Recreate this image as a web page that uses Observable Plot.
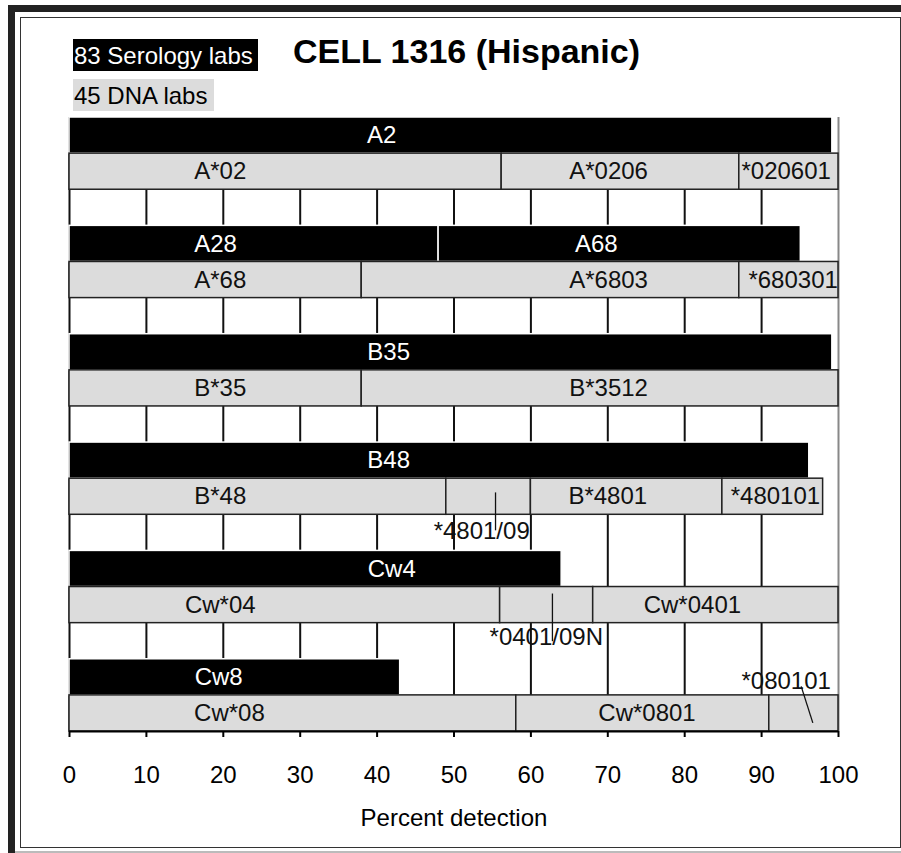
<!DOCTYPE html>
<html>
<head>
<meta charset="utf-8">
<script src="https://cdn.jsdelivr.net/npm/d3@7"></script>
<script src="https://cdn.jsdelivr.net/npm/@observablehq/plot@0.6"></script>
<style>
  html, body { margin: 0; padding: 0; background: #fff; }
  #page { position: relative; width: 901px; height: 853px; background: #fff; overflow: hidden;
          font-family: "Liberation Sans", Arial, sans-serif; }
  .abs { position: absolute; }
</style>
</head>
<body>
<div id="page">
  <div class="abs" style="left:8px;top:5px;width:893px;height:7px;background:#222"></div>
  <div class="abs" style="left:8px;top:5px;width:7px;height:848px;background:#222"></div>
  <div class="abs" style="left:20px;top:17px;width:879px;height:829px;border:1px solid #333"></div>
  <div class="abs" style="left:15px;top:851px;width:886px;height:2px;background:#bbb"></div>
  <div class="abs" id="title" style="left:293px;top:34px;font-size:34px;line-height:34px;font-weight:bold;white-space:nowrap;color:#000"></div>
  <div class="abs" id="leg1" style="left:73px;top:39px;width:185px;height:32px;line-height:34px;font-size:24px;background:#000;color:#fff;white-space:nowrap;padding-left:1px;box-sizing:border-box"></div>
  <div class="abs" id="leg2" style="left:73px;top:79px;width:141px;height:32px;line-height:34px;font-size:24px;background:#dcdcdc;color:#000;white-space:nowrap;padding-left:1px;box-sizing:border-box"></div>
  <div class="abs" id="chart" style="left:0;top:100px"></div>
</div>
<script>
// ---- text ----
const titleText = "CELL 1316 (Hispanic)";
const legendSerology = "83 Serology labs";
const legendDNA = "45 DNA labs";
const axisLabel = "Percent detection";
const xTicks = [0, 10, 20, 30, 40, 50, 60, 70, 80, 90, 100];

// ---- serology (black) segments ----
const serologyGroup   = [0, 1, 1, 2, 3, 4, 5];
const serologyName    = ["A2", "A28", "A68", "B35", "B48", "Cw4", "Cw8"];
const serologyStart   = [0, 0, 48, 0, 0, 0, 0];
const serologyEnd     = [99.2, 48, 95.1, 99.2, 96.2, 64, 43];
const serologyLabelAt = [40.6, 19.0, 68.5, 41.5, 41.5, 41.9, 19.4];

// ---- DNA (grey) segments ----
const dnaGroup   = [0, 0, 0, 1, 1, 1, 2, 2, 3, 3, 3, 3, 4, 4, 4, 5, 5, 5];
const dnaName    = ["A*02", "A*0206", "*020601", "A*68", "A*6803", "*680301", "B*35", "B*3512",
                    "B*48", "*4801/09", "B*4801", "*480101", "Cw*04", "*0401/09N", "Cw*0401",
                    "Cw*08", "Cw*0801", "*080101"];
const dnaStart   = [0, 56.2, 87.1, 0, 38, 87.1, 0, 38, 0, 49, 60, 84.9, 0, 56, 68.1, 0, 58.1, 91];
const dnaEnd     = [56.2, 87.1, 100, 38, 87.1, 100, 38, 100, 49, 60, 84.9, 98, 56, 68.1, 100, 58.1, 91, 100];
// label centre (percent) for labels drawn inside the segment; null = drawn as a callout
const dnaLabelAt = [19.6, 70.1, 93.2, 19.6, 70.1, 94.1, 19.6, 70.1, 19.6, null, 70.0, 91.8, 19.6, null, 81.0, 20.8, 75.1, null];

// ---- callouts (label position and leader line, in percent / row units) ----
const calloutName   = ["*4801/09", "*0401/09N", "*080101"];
const calloutX      = [53.6, 62.0, 93.2];
const calloutRow    = [11.46, 14.4, 15.61];
const calloutLineX1 = [55.4, 62.8, 95.15];
const calloutLineY1 = [10.38, 13.18, 15.75];
const calloutLineX2 = [55.4, 62.8, 96.66];
const calloutLineY2 = [11.43, 14.5, 16.76];

document.getElementById("title").textContent = titleText;
document.getElementById("leg1").textContent = legendSerology;
document.getElementById("leg2").textContent = legendDNA;

const serIdx = d3.range(serologyName.length);
const dnaIdx = d3.range(dnaName.length);
const dnaInside = dnaIdx.filter(i => dnaLabelAt[i] != null);
const calIdx = d3.range(calloutName.length);
const nRows = 17;

const chart = Plot.plot({
  width: 901,
  height: 753,
  marginTop: 17,
  marginBottom: 122,
  marginLeft: 69,
  marginRight: 63,
  x: {domain: [0, 100]},
  y: {domain: [0, nRows], reverse: true, axis: null},
  style: {fontFamily: "'Liberation Sans', Arial, sans-serif", fontSize: "24px", background: "transparent", overflow: "visible", color: "#000"},
  marks: [
    Plot.ruleX(xTicks, {x: d => d, y1: 0, y2: nRows, stroke: d => d === 100 ? "#888" : "#111", strokeWidth: 2}),
    Plot.rect(serIdx, {
      x1: i => serologyStart[i], x2: i => serologyEnd[i],
      y1: i => 3 * serologyGroup[i], y2: i => 3 * serologyGroup[i] + 1,
      fill: "#000", stroke: "#fff", strokeWidth: 1.5
    }),
    Plot.rect(dnaIdx, {
      x1: i => dnaStart[i], x2: i => dnaEnd[i],
      y1: i => 3 * dnaGroup[i] + 1, y2: i => 3 * dnaGroup[i] + 2,
      fill: "#dcdcdc", stroke: "#222", strokeWidth: 1.5
    }),
    Plot.text(serIdx, {
      x: i => serologyLabelAt[i], y: i => 3 * serologyGroup[i] + 0.5,
      text: i => serologyName[i], fill: "#fff", fontSize: 24
    }),
    Plot.text(dnaInside, {
      x: i => dnaLabelAt[i], y: i => 3 * dnaGroup[i] + 1.5,
      text: i => dnaName[i], fill: "#111", fontSize: 24
    }),
    Plot.link(calIdx, {
      x1: i => calloutLineX1[i], y1: i => calloutLineY1[i],
      x2: i => calloutLineX2[i], y2: i => calloutLineY2[i],
      stroke: "#111", strokeWidth: 1.3
    }),
    Plot.text(calIdx, {
      x: i => calloutX[i], y: i => calloutRow[i],
      text: i => calloutName[i], fill: "#111", fontSize: 24
    }),
    Plot.ruleY([nRows], {x1: 0, x2: 100, stroke: "#000", strokeWidth: 2}),
    Plot.axisX({ticks: xTicks, tickSize: 6, tickPadding: 28, strokeWidth: 2, fontSize: 24, label: null, tickFormat: d => String(d)}),
    Plot.text([axisLabel], {frameAnchor: "bottom", dy: 94, fontSize: 24, fill: "#000"})
  ]
});
document.getElementById("chart").appendChild(chart);
</script>
</body>
</html>
